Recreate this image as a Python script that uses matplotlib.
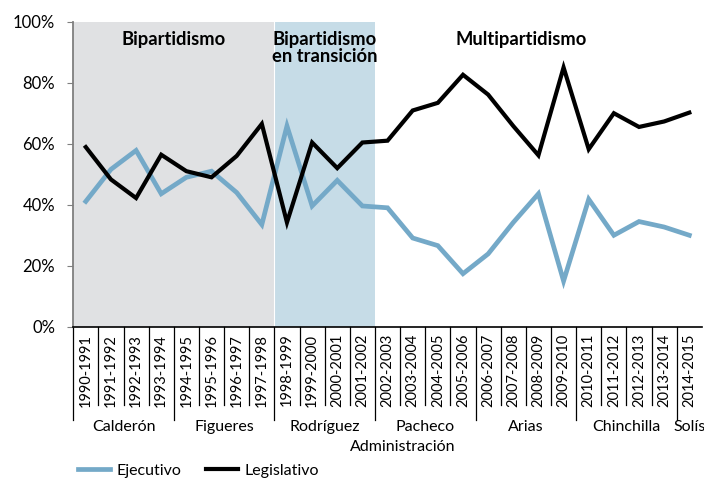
import matplotlib
matplotlib.use("Agg")
import matplotlib.pyplot as plt
import numpy as np

plt.rcParams['font.family'] = ['Lato', 'DejaVu Sans']

# datos
periodos = ["1990-1991", "1991-1992", "1992-1993", "1993-1994", "1994-1995",
            "1995-1996", "1996-1997", "1997-1998", "1998-1999", "1999-2000",
            "2000-2001", "2001-2002", "2002-2003", "2003-2004", "2004-2005",
            "2005-2006", "2006-2007", "2007-2008", "2008-2009", "2009-2010",
            "2010-2011", "2011-2012", "2012-2013", "2013-2014", "2014-2015"]
ejecutivo = [41.1, 51.6, 57.8, 43.6, 49.0, 51.0, 44.0, 33.5, 65.8, 39.6,
             48.0, 39.6, 39.0, 29.1, 26.6, 17.4, 23.9, 34.2, 43.6, 15.0,
             41.8, 30.0, 34.5, 32.7, 30.0]
legislativo = [58.9, 48.3, 42.2, 56.4, 51.0, 49.0, 56.0, 66.5, 34.2, 60.4,
               52.0, 60.4, 61.0, 70.9, 73.4, 82.6, 76.1, 65.8, 56.2, 85.0,
               58.2, 70.0, 65.5, 67.3, 70.2]
administraciones = ["Calderón", "Figueres", "Rodríguez", "Pacheco", "Arias", "Chinchilla", "Solís"]
anios_admin = [4, 4, 4, 4, 4, 4, 1]
etapas = ["Bipartidismo", "Bipartidismo\nen transición", "Multipartidismo"]
anios_etapa = [8, 4, 13]

azul = "#74a9c8"
fondo_gris = "#e0e1e3"
fondo_azul = "#c6dce7"

fig = plt.figure(figsize=(7.04, 4.82), dpi=100)
ax = fig.add_axes([0.104, 0.322, 0.893, 0.633])

x = np.arange(len(periodos))

# fondos de las etapas
ax.axvspan(-0.5, anios_etapa[0] - 0.5, color=fondo_gris, lw=0, zorder=0)
ax.axvspan(anios_etapa[0] - 0.5, anios_etapa[0] + anios_etapa[1] - 0.5, color=fondo_azul, lw=0, zorder=0)
ax.axvline(anios_etapa[0] - 0.5, color="white", lw=0.8, zorder=0.5)

ax.plot(x, ejecutivo, color=azul, lw=3.4, label="Ejecutivo", solid_joinstyle="miter", zorder=2)
ax.plot(x, legislativo, color="black", lw=3.0, label="Legislativo", solid_joinstyle="miter", zorder=3)

# etiquetas de etapas
pos_etapa = [173.5, 324.5, 521]
for nombre, px in zip(etapas, pos_etapa):
    cx = (px - 73.3) / 25.14 - 0.5
    ax.text(cx, 96.8, nombre, ha="center", va="top", fontsize=13.2,
            fontweight="bold", linespacing=0.95)

ax.set_xlim(-0.5, len(periodos) - 0.5)
ax.set_ylim(0, 100)
ax.set_yticks(range(0, 101, 20))
ax.set_yticklabels([f"{v}%" for v in range(0, 101, 20)], fontsize=12)
ax.tick_params(axis="y", direction="out", length=4, color="#7f7f7f", pad=9)

ax.set_xticks(x)
ax.set_xticklabels(periodos, rotation=90, fontsize=10.5, va="top")
ax.tick_params(axis="x", length=0, pad=5)

for s in ["top", "right"]:
    ax.spines[s].set_visible(False)
ax.spines["left"].set_color("#7f7f7f")
ax.spines["left"].set_linewidth(1.3)
ax.spines["bottom"].set_color("black")
ax.spines["bottom"].set_linewidth(1.2)

# separadores de categorias
tr = ax.get_xaxis_transform()
fronteras_admin = np.cumsum([0] + anios_admin[:-1]) - 0.5
for b in np.arange(len(periodos)) - 0.5:
    largo = -0.305 if b in fronteras_admin else -0.256
    ax.plot([b, b], [0, largo], transform=tr, color="black", lw=0.9, clip_on=False)

# nombres de administraciones
inicio = 0
for nombre, n in zip(administraciones, anios_admin):
    ax.text(inicio + n / 2 - 0.5, -0.33, nombre, transform=tr, ha="center", va="center", fontsize=11.5)
    inicio += n
ax.text(12.6, -0.395, "Administración", transform=tr, ha="center", va="center", fontsize=11.5)

fig.legend(loc="center left", bbox_to_anchor=(0.09, 0.024), ncol=2, frameon=False,
           fontsize=11.5, handlelength=2.0, columnspacing=1.5, handletextpad=0.45)

fig.savefig("out.png", dpi=100)
